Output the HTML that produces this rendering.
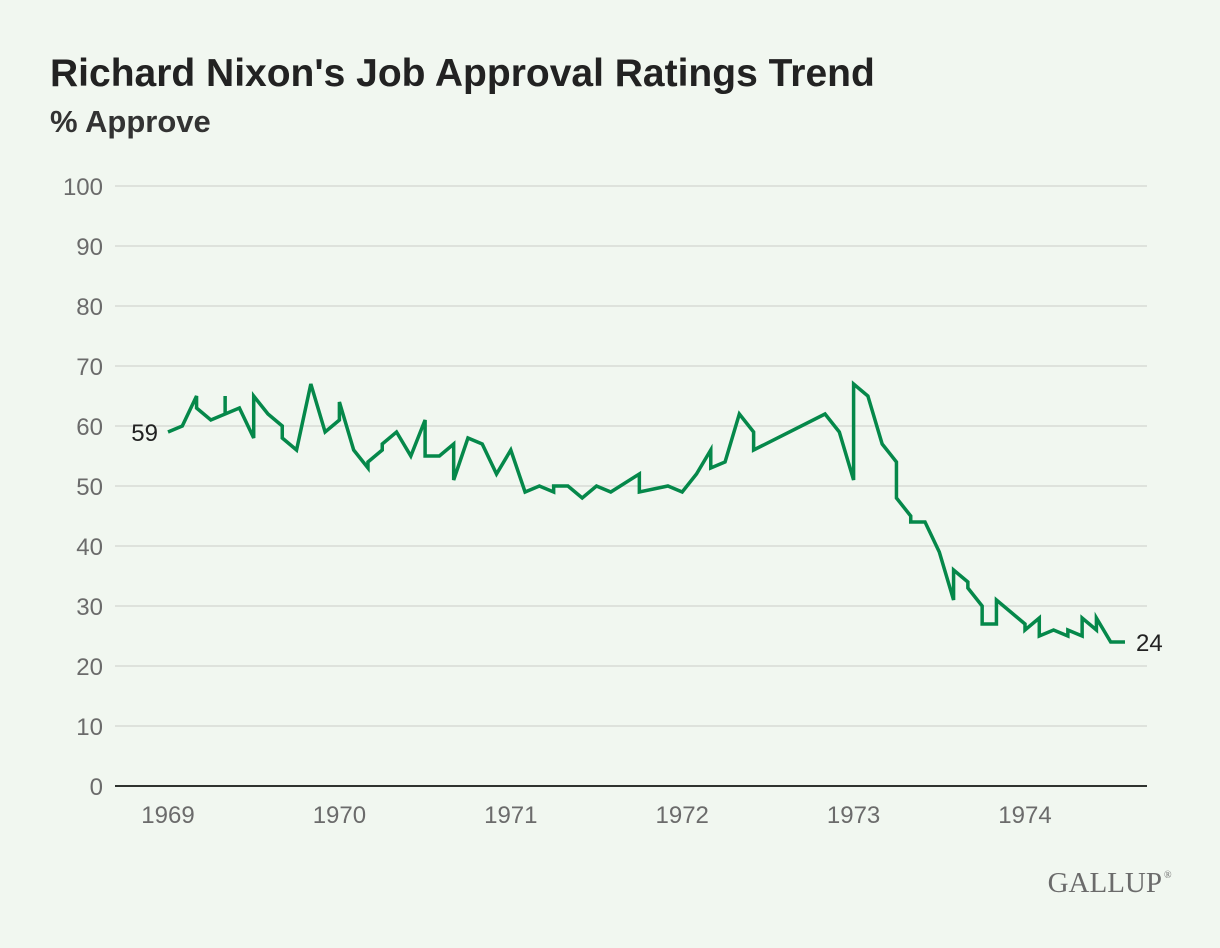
<!DOCTYPE html>
<html><head><meta charset="utf-8"><style>
body{margin:0;background:#f1f7f0;font-family:"Liberation Sans",sans-serif;}
#wrap{position:relative;width:1220px;height:948px;overflow:hidden;}
</style></head><body>
<div id="wrap">
<svg width="1220" height="948" id="svg">
<text x="50" y="86" font-size="39" font-weight="bold" fill="#222">Richard Nixon's Job Approval Ratings Trend</text>
<text x="50" y="132" font-size="31" font-weight="bold" fill="#333">% Approve</text>
<g id="grid"></g><g id="xax"></g><g id="series"></g>
<text x="1162" y="892" font-family="Liberation Serif,serif" font-size="29" fill="#6b6b6b" text-anchor="end">GALLUP</text>
<text x="1164" y="878" font-family="Liberation Serif,serif" font-size="10" fill="#6b6b6b">®</text>
</svg></div>
<script>
const yTicks=[0,10,20,30,40,50,60,70,80,90,100];
const xTickLabels=["1969","1970","1971","1972","1973","1974"];
const months=[0,1,2,2,3,4,4,4,5,6,6,7,8,8,9,10,11,12,12,13,14,14,15,15,16,17,18,18,19,20,20,21,22,23,24,25,26,27,27,28,29,30,31,33,33,35,36,37,38,38,39,40,41,41,46,47,48,48,49,50,51,51,52,52,53,54,55,55,56,56,57,57,58,58,59,60,60,61,61,62,63,63,64,64,65,65,66,67];
const approve=[59,60,65,63,61,62,65,62,63,58,65,62,60,58,56,67,59,61,64,56,53,54,56,57,59,55,61,55,55,57,51,58,57,52,56,49,50,49,50,50,48,50,49,52,49,50,49,52,56,53,54,62,59,56,62,59,51,67,65,57,54,48,45,44,44,39,31,36,34,33,30,27,27,31,29,27,26,28,25,26,25,26,25,28,26,28,24,24];
const NS="http://www.w3.org/2000/svg";
const xS=m=>168+m*171.4/12;
const yS=v=>786-v*6;
const grid=document.getElementById('grid');
yTicks.forEach(t=>{
 const l=document.createElementNS(NS,'line');
 l.setAttribute('x1',115);l.setAttribute('x2',1147);l.setAttribute('y1',yS(t));l.setAttribute('y2',yS(t));
 l.setAttribute('stroke',t===0?'#2f332f':'#d8dcd6');l.setAttribute('stroke-width',t===0?2:1.5);
 
 
 grid.appendChild(l);
 const tx=document.createElementNS(NS,'text');
 tx.setAttribute('x',103);tx.setAttribute('y',yS(t)+9);tx.setAttribute('text-anchor','end');
 tx.setAttribute('font-size','24');tx.setAttribute('fill','#6b6b6b');tx.textContent=t;
 
 
 grid.appendChild(tx);
});
const xax=document.getElementById('xax');
xTickLabels.forEach((lab,i)=>{
 const x=xS(i*12);
 const tx=document.createElementNS(NS,'text');
 tx.setAttribute('x',x);tx.setAttribute('y',823);tx.setAttribute('text-anchor','middle');
 tx.setAttribute('font-size','24');tx.setAttribute('fill','#6b6b6b');tx.textContent=lab;
 
 
 xax.appendChild(tx);
});
const s=document.getElementById('series');
const p=document.createElementNS(NS,'polyline');
p.setAttribute('points',months.map((m,i)=>xS(m)+','+yS(approve[i])).join(' '));
p.setAttribute('fill','none');p.setAttribute('stroke','#05884a');p.setAttribute('stroke-width','3.5');p.setAttribute('stroke-linejoin','miter');


s.appendChild(p);
const f=document.createElementNS(NS,'text');
f.setAttribute('x',xS(months[0])-10);f.setAttribute('y',yS(approve[0])+9);f.setAttribute('text-anchor','end');
f.setAttribute('font-size','24');f.setAttribute('fill','#222');f.textContent=approve[0];


s.appendChild(f);
const n=months.length-1;
const e=document.createElementNS(NS,'text');
e.setAttribute('x',xS(months[n])+11);e.setAttribute('y',yS(approve[n])+9);
e.setAttribute('font-size','24');e.setAttribute('fill','#222');e.textContent=approve[n];


s.appendChild(e);
</script>
</body></html>
